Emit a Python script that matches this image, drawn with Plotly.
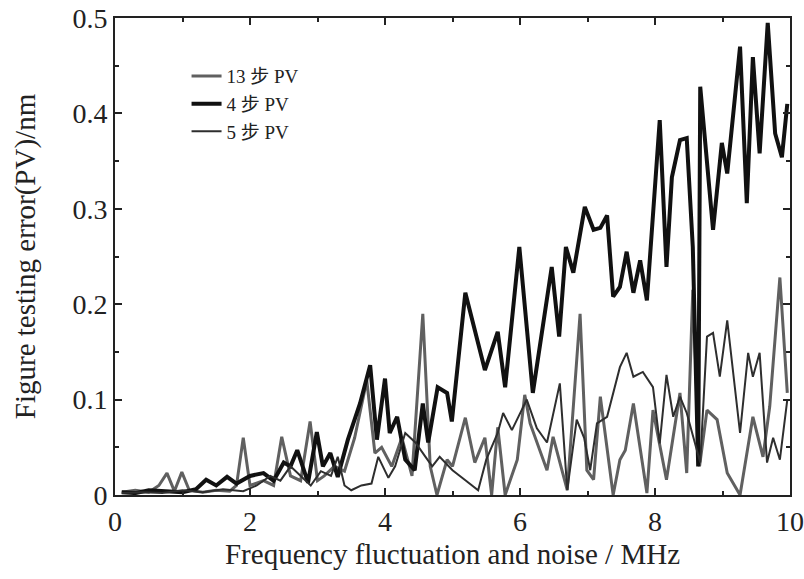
import plotly.graph_objects as go

# 4步 PV (thick black)
x4 = [0.1,0.3,0.5,0.8,1.0,1.2,1.35,1.5,1.66,1.8,2.0,2.2,2.35,2.5,2.6,2.7,2.86,2.99,3.08,3.19,3.3,3.45,3.63,3.78,3.88,4.0,4.07,4.18,4.3,4.44,4.56,4.64,4.78,4.92,4.99,5.19,5.48,5.67,5.78,5.99,6.19,6.47,6.58,6.68,6.79,6.96,7.09,7.19,7.29,7.38,7.48,7.58,7.68,7.78,7.88,8.07,8.17,8.25,8.37,8.47,8.56,8.64,8.67,8.86,8.99,9.07,9.26,9.36,9.45,9.55,9.67,9.78,9.88,9.96]
y4 = [0.003,0.002,0.005,0.004,0.003,0.006,0.016,0.01,0.019,0.012,0.02,0.023,0.015,0.034,0.03,0.047,0.013,0.066,0.03,0.044,0.019,0.058,0.096,0.136,0.058,0.122,0.065,0.082,0.037,0.026,0.096,0.055,0.113,0.107,0.077,0.212,0.131,0.171,0.113,0.26,0.107,0.239,0.166,0.26,0.233,0.302,0.278,0.28,0.293,0.208,0.218,0.255,0.212,0.246,0.204,0.393,0.239,0.333,0.372,0.374,0.26,0.03,0.428,0.278,0.369,0.337,0.47,0.306,0.459,0.358,0.495,0.379,0.354,0.41]

# 13步 PV (grey, spiky)
x13 = [0.1,0.3,0.5,0.65,0.77,0.88,0.99,1.1,1.3,1.5,1.7,1.8,1.9,2.0,2.2,2.35,2.47,2.6,2.75,2.89,3.0,3.1,3.25,3.4,3.55,3.73,3.85,3.95,4.1,4.25,4.4,4.56,4.67,4.77,4.92,5.0,5.19,5.33,5.48,5.58,5.67,5.78,5.96,6.07,6.15,6.4,6.49,6.7,6.89,6.99,7.09,7.19,7.38,7.48,7.56,7.68,7.88,7.97,8.17,8.37,8.47,8.56,8.66,8.77,8.92,9.07,9.26,9.45,9.6,9.7,9.85,9.96]
y13 = [0.003,0.005,0.003,0.01,0.023,0.004,0.024,0.005,0.003,0.005,0.004,0.01,0.06,0.01,0.015,0.01,0.061,0.02,0.015,0.077,0.015,0.02,0.03,0.025,0.06,0.12,0.044,0.05,0.03,0.06,0.02,0.19,0.03,0.0,0.037,0.03,0.081,0.034,0.06,0.0,0.071,0.0,0.037,0.105,0.075,0.026,0.061,0.005,0.19,0.026,0.016,0.103,0.0,0.037,0.047,0.096,0.002,0.089,0.016,0.107,0.023,0.215,0.03,0.089,0.079,0.023,0.0,0.082,0.04,0.093,0.228,0.107]

# 5步 PV (thin dark)
x5 = [0.1,0.4,0.7,1.0,1.3,1.6,1.9,2.1,2.3,2.45,2.6,2.75,2.9,3.05,3.2,3.3,3.4,3.5,3.65,3.8,3.9,4.05,4.15,4.3,4.45,4.6,4.7,4.81,5.0,5.2,5.38,5.5,5.67,5.75,5.88,6.1,6.25,6.4,6.59,6.7,6.84,6.95,7.04,7.14,7.29,7.48,7.58,7.68,7.82,7.97,8.07,8.17,8.27,8.37,8.47,8.67,8.77,8.86,8.96,9.07,9.26,9.38,9.45,9.55,9.66,9.75,9.85,9.96]
y5 = [0.002,0.003,0.002,0.005,0.003,0.006,0.004,0.01,0.02,0.015,0.03,0.02,0.01,0.025,0.02,0.04,0.01,0.005,0.01,0.012,0.04,0.018,0.03,0.065,0.055,0.04,0.03,0.04,0.026,0.015,0.005,0.037,0.065,0.086,0.068,0.1,0.07,0.055,0.117,0.005,0.079,0.06,0.026,0.075,0.082,0.134,0.149,0.124,0.129,0.113,0.054,0.126,0.082,0.103,0.086,0.034,0.166,0.17,0.124,0.183,0.065,0.149,0.124,0.149,0.034,0.06,0.037,0.1]

names = ["13 步 PV", "4 步 PV", "5 步 PV"]

SERIF = "Liberation Serif, Times New Roman, serif"

fig = go.Figure()
fig.add_trace(go.Scatter(x=x13, y=y13, mode="lines", name=names[0],
                         line=dict(color="#606060", width=3), legendgroup="a"))
fig.add_trace(go.Scatter(x=x4, y=y4, mode="lines", name=names[1],
                         line=dict(color="#111111", width=4), legendgroup="b"))
fig.add_trace(go.Scatter(x=x5, y=y5, mode="lines", name=names[2],
                         line=dict(color="#2e2e2e", width=2), legendgroup="c"))

axis_common = dict(showline=True, linecolor="#222", linewidth=2, mirror="ticks",
                   ticks="inside", ticklen=7, tickwidth=1.5, tickcolor="#222",
                   showgrid=False, zeroline=False, automargin=False,
                   ticklabeloverflow="allow",
                   tickfont=dict(family=SERIF, size=28, color="#222"))

fig.update_xaxes(range=[0, 10], dtick=2, tick0=0,
                 minor=dict(dtick=1, ticks="inside", ticklen=4, tickcolor="#222"),
                 title=dict(text="Frequency fluctuation and noise / MHz",
                            font=dict(family=SERIF, size=29, color="#222"),
                            standoff=8),
                 **axis_common)
fig.update_yaxes(range=[0, 0.5], dtick=0.1, tick0=0, tickformat="~g",
                 minor=dict(dtick=0.05, ticks="inside", ticklen=4, tickcolor="#222"),
                 title=dict(text="Figure testing error(PV)/nm",
                            font=dict(family=SERIF, size=29, color="#222"),
                            standoff=28),
                 **axis_common)

fig.update_layout(
    width=804, height=579,
    margin=dict(l=115, r=14, t=18, b=84),
    paper_bgcolor="white", plot_bgcolor="white",
    showlegend=True,
    legend=dict(x=0.106, y=0.918, xanchor="left", yanchor="top",
                bgcolor="rgba(0,0,0,0)", tracegroupgap=0, itemwidth=30,
                font=dict(family="Liberation Serif, Noto Sans CJK SC, serif", size=19, color="#222")),
)

fig.write_html("out.html", config={"displayModeBar": False},
               post_script="document.body.style.margin='0';")
